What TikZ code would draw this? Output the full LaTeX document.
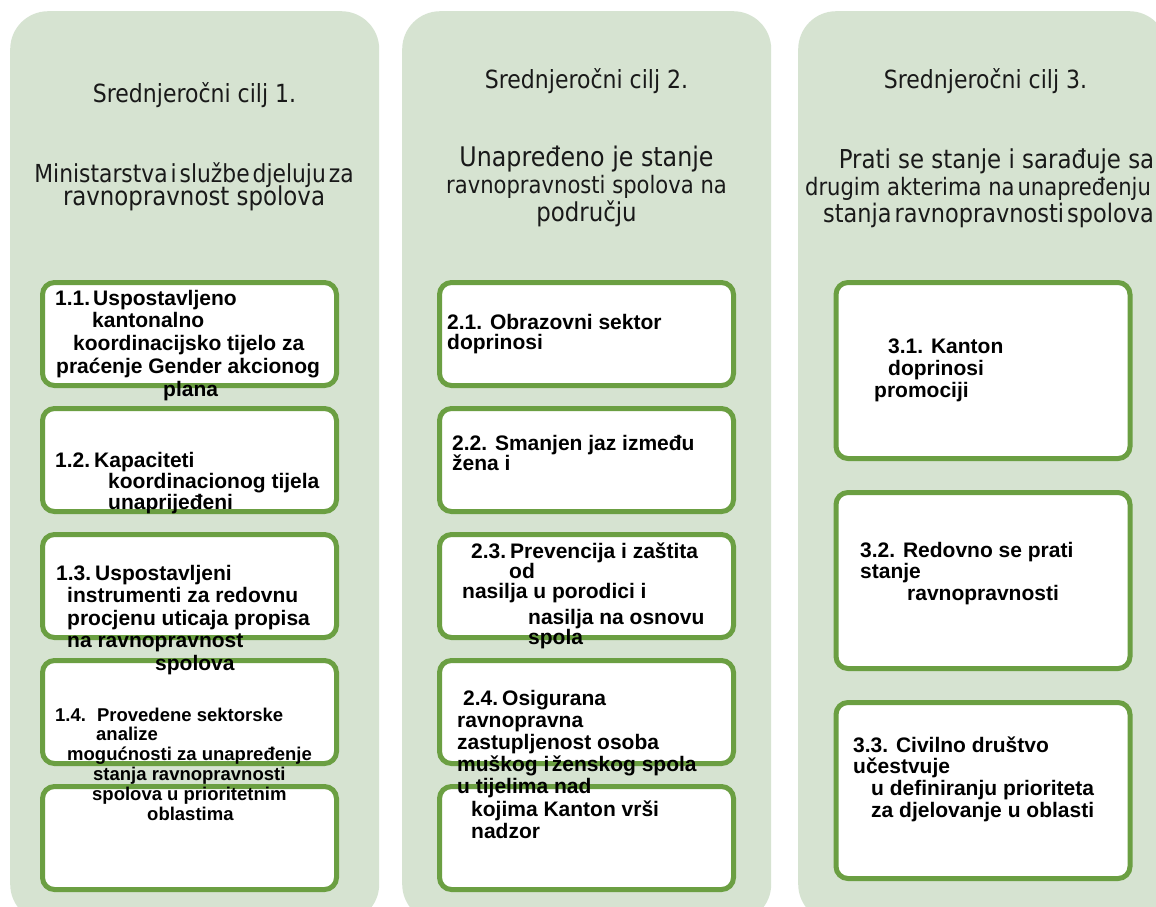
\documentclass[tikz,border=0pt]{standalone}
\usepackage{fontspec}
\usetikzlibrary{positioning}
\newfontfamily\headfont[FakeStretch=0.88]{DejaVu Sans}
\newfontfamily\itemfont{Liberation Sans}
\definecolor{colfill}{RGB}{214,227,209}
\definecolor{boxgreen}{RGB}{107,159,66}
% stacked lines, baseline of the node = baseline of the first line
\newcommand{\goallines}[2][21pt]{\vtop{\hsize=330pt\parindent=0pt\parskip=0pt\baselineskip=#1\lineskiplimit=-100pt\raggedright\noindent#2}}
\newcommand{\headlines}[3][27.5pt]{\vtop{\hsize=#2\parindent=0pt\parskip=0pt\baselineskip=#1\lineskiplimit=-100pt\centering#3}}
\newcommand{\ts}{\hspace{0.12em}}

\begin{document}
\begin{tikzpicture}[x=1pt, y=-1pt,
			goalcol/.style={rectangle, rounded corners=38pt, fill=colfill, minimum width=369pt, minimum height=911pt, anchor=north west, inner sep=0pt},
			goalbox/.style={rectangle, rounded corners=12pt, draw=boxgreen, line width=5pt, fill=white, minimum width=294pt, minimum height=103pt, inner sep=0pt},
			tallbox/.style={goalbox, minimum height=176pt},
			headtext/.style={anchor=base, inner sep=0pt, text=black!90, font=\headfont\fontsize{25pt}{30pt}\selectfont},
			subtext/.style={anchor=base, inner sep=0pt, text=black!90, font=\headfont\fontsize{26pt}{30pt}\selectfont},
			itemtext/.style={anchor=base west, inner sep=0pt, font=\itemfont\bfseries\fontsize{21pt}{22pt}\selectfont},
			]
			\useasboundingbox[fill=white] (0,0) rectangle (1156,906);
			\clip (0,0) rectangle (1156,906);

			%Columns
			\node[goalcol] (col1) at (10,11) {};
			\node[goalcol] (col2) at (402,11) {};
			\node[goalcol] (col3) at (798,11) {};

			%Headings
			\node[headtext] (head1) at (194.5,102) {Srednjeročni cilj 1.};
			\node[headtext] (head2) at (586.5,88) {Srednjeročni cilj 2.};
			\node[headtext] (head3) at (985.5,88) {Srednjeročni cilj 3.};

			\node[subtext] (sub1) at (194,182) {\headlines[23.5pt]{350pt}{{\fontsize{24.8pt}{30pt}\selectfont Ministarstva\ts i\ts službe\ts djeluju\ts za}\\ ravnopravnost spolova}};
			\node[subtext] (sub2) at (586.5,166) {\headlines{350pt}{{\fontsize{27pt}{30pt}\selectfont Unapređeno je stanje}\\ {\fontsize{24pt}{30pt}\selectfont ravnopravnosti spolova na}\\ području}};
			\node[subtext] (sub3) at (978,168) {\headlines[27pt]{356pt}{\hspace*{37pt}Prati se stanje i sarađuje sa\\ {\fontsize{24pt}{30pt}\selectfont drugim akterima na\ts unapređenju}\\ {\fontsize{25.5pt}{30pt}\selectfont\hspace*{21pt}stanja\ts ravnopravnosti\ts spolova}}};

			%Boxes
			\node[goalbox] (b11) at (189.5,334) {};
			\node[goalbox] (b12) [below=18pt of b11] {};
			\node[goalbox] (b13) [below=18pt of b12] {};
			\node[goalbox] (b14) [below=18pt of b13] {};
			\node[goalbox] (b15) [below=18pt of b14] {};

			\node[goalbox] (b21) at (586.5,334) {};
			\node[goalbox] (b22) [below=18pt of b21] {};
			\node[goalbox] (b23) [below=18pt of b22] {};
			\node[goalbox] (b24) [below=18pt of b23] {};
			\node[goalbox] (b25) [below=18pt of b24] {};

			\node[tallbox] (b31) at (983,370.5) {};
			\node[tallbox] (b32) [below=29pt of b31] {};
			\node[tallbox] (b33) [below=29pt of b32] {};

			%Texts
			\node[itemtext] (t11) at (55,305) {\goallines[22.75pt]{1.1.\hspace{3pt}Uspostavljeno\\ \hspace*{37pt}kantonalno\\ \hspace*{18pt}koordinacijsko tijelo za\\ \hspace*{1pt}praćenje Gender akcionog\\ \hspace*{108pt}plana}};
			\node[itemtext] (t12) at (55,467) {\goallines{1.2.\hspace{4pt}Kapaciteti\\ \hspace*{53pt}koordinacionog tijela\\ \hspace*{53pt}unaprijeđeni}};
			\node[itemtext] (t13) at (56,580) {\goallines[22.5pt]{1.3.\hspace{4pt}Uspostavljeni\\ \hspace*{11pt}instrumenti za redovnu\\ \hspace*{11pt}procjenu uticaja propisa\\ \hspace*{11pt}na ravnopravnost\\ \hspace*{99pt}spolova}};
			\node[itemtext, font=\itemfont\bfseries\fontsize{18.5pt}{20pt}\selectfont] (t14) at (55,721) {\goallines[19.8pt]{1.4.\hspace{11pt}Provedene sektorske\\ \hspace*{41pt}analize\\ \hspace*{12pt}mogućnosti za unapređenje\\ \hspace*{38pt}stanja ravnopravnosti\\ \hspace*{37pt}spolova u prioritetnim\\ \hspace*{92pt}oblastima}};

			\node[itemtext] (t21) at (447,329) {\goallines[20pt]{2.1. Obrazovni sektor\\ doprinosi}};
			\node[itemtext] (t22) at (452,450) {\goallines[20pt]{2.2. Smanjen jaz između\\ žena i}};
			\node[itemtext] (t23) at (462,558) {\goallines[20pt]{\hspace*{9pt}2.3.\hspace{4pt}Prevencija i zaštita\\ \hspace*{47pt}od\\ nasilja u porodici i\\[6pt] \hspace*{66pt}nasilja na osnovu\\ \hspace*{66pt}spola}};
			\node[itemtext] (t24) at (457,705) {\goallines[22.2pt]{\hspace*{6pt}2.4.\hspace{4pt}Osigurana\\ ravnopravna\\ zastupljenost osoba\\ muškog i\ts ženskog spola\\ u tijelima nad\\ \hspace*{14pt}kojima Kanton vrši\\ \hspace*{14pt}nadzor}};

			\node[itemtext] (t31) at (874,353) {\goallines[22pt]{\hspace*{14pt}3.1. Kanton\\ \hspace*{14pt}doprinosi\\ promociji}};
			\node[itemtext] (t32) at (860,557) {\goallines[21.5pt]{3.2. Redovno se prati\\ stanje\\ \hspace*{47pt}ravnopravnosti}};
			\node[itemtext] (t33) at (853,752) {\goallines[21.7pt]{3.3. Civilno društvo\\ učestvuje\\ \hspace*{18pt}u definiranju prioriteta\\ \hspace*{18pt}za djelovanje u oblasti}};
		\end{tikzpicture}
\end{document}
